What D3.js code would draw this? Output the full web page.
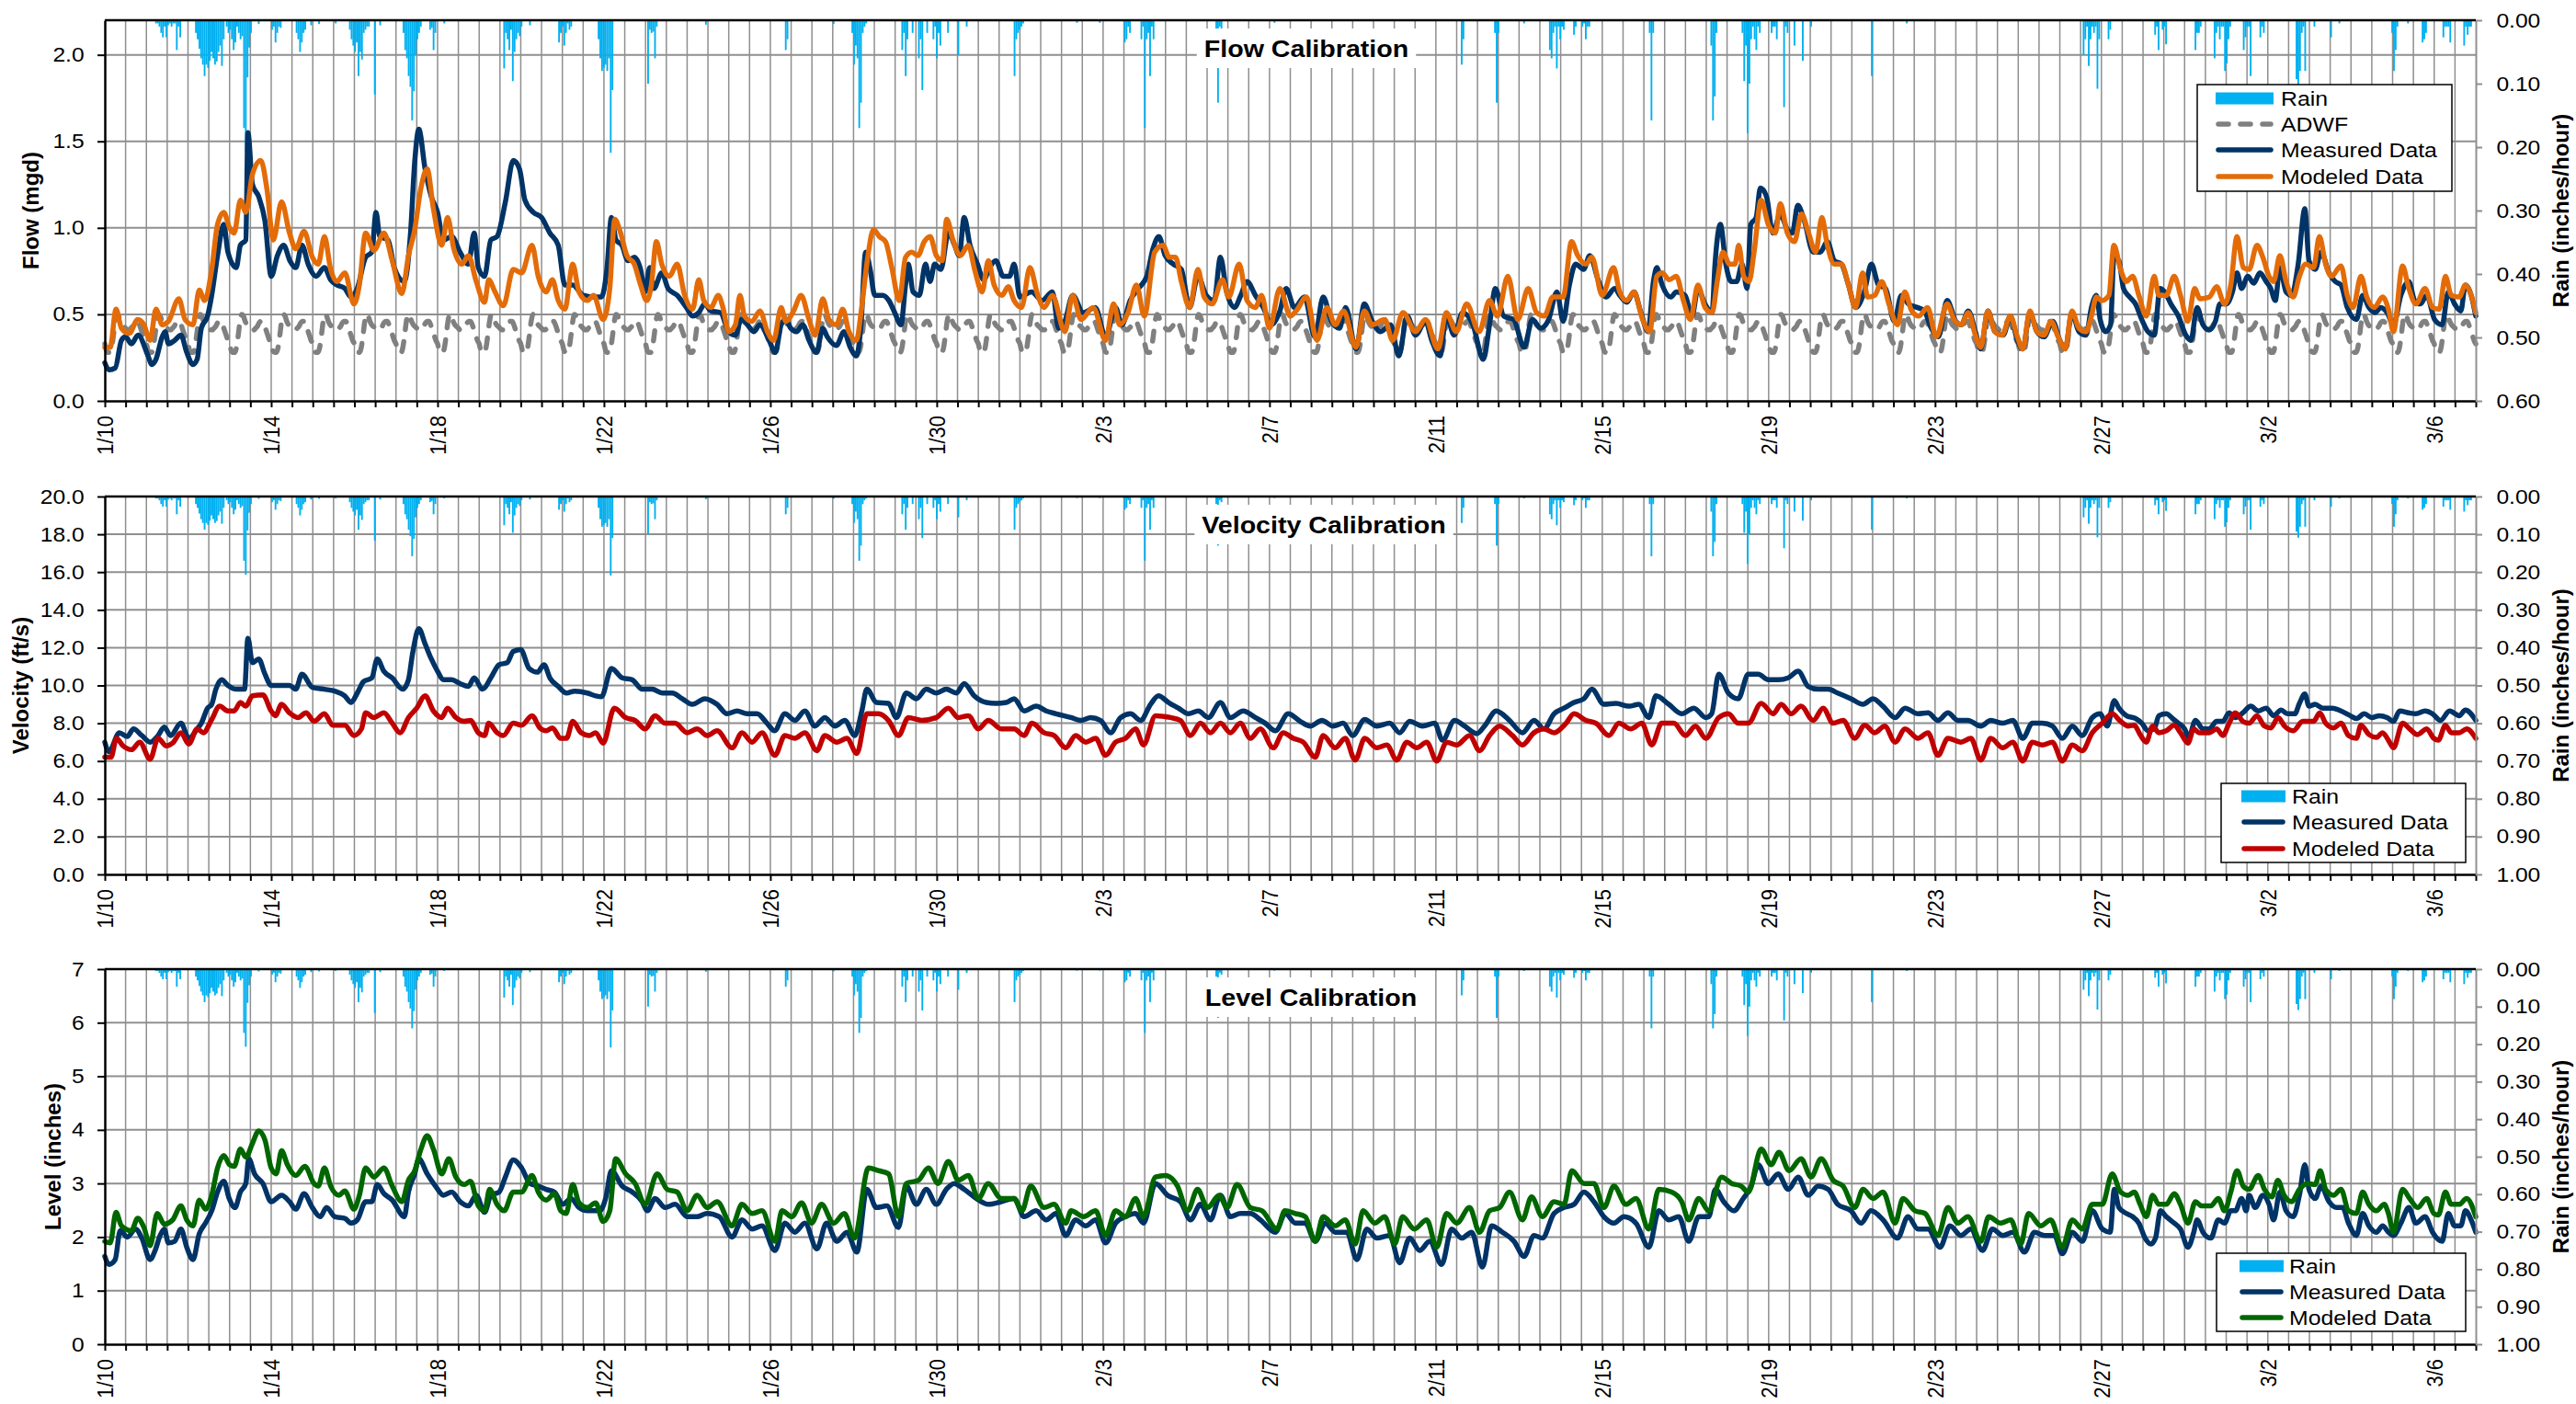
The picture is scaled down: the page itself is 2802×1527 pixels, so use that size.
<!DOCTYPE html>
<html>
<head>
<meta charset="utf-8">
<script src="https://cdn.jsdelivr.net/npm/d3@7"></script>
<style>
  body { margin: 0; background: #fff; }
  text { font-family: "Liberation Sans", Arial, sans-serif; }
</style>
</head>
<body>
<svg id="chart"></svg>
<script>
const W = 2802, H = 1527;

// x values are days after 1/10 00:00 (leap year, axis runs to 3/7)
const dateLabels = ["1/10","1/14","1/18","1/22","1/26","1/30","2/3","2/7","2/11","2/15","2/19","2/23","2/27","3/2","3/6"];

// ADWF diurnal curve, one value per hour (mgd)
const adwfProfile = [0.33,0.29,0.28,0.28,0.31,0.38,0.46,0.50,0.49,0.46,0.44,0.43,0.42,0.41,0.41,0.42,0.43,0.45,0.46,0.46,0.44,0.41,0.38,0.35];

const flowMeasured = [[0,0.22],[0.1,0.18],[0.25,0.19],[0.4,0.35],[0.5,0.37],[0.64,0.33],[0.8,0.38],[1.04,0.26],[1.13,0.21],[1.23,0.24],[1.38,0.37],[1.45,0.40],[1.53,0.33],[1.68,0.35],[1.83,0.38],[1.97,0.28],[2.12,0.21],[2.22,0.24],[2.32,0.42],[2.47,0.49],[2.57,0.61],[2.71,0.84],[2.86,1.02],[2.96,0.86],[3.16,0.77],[3.26,0.9],[3.39,0.93],[3.44,1.55],[3.55,1.25],[3.7,1.18],[3.85,1.04],[4.0,0.72],[4.15,0.84],[4.3,0.9],[4.45,0.81],[4.59,0.77],[4.74,0.9],[4.89,0.79],[5.08,0.72],[5.28,0.77],[5.43,0.70],[5.58,0.67],[5.77,0.65],[5.92,0.60],[6.07,0.65],[6.27,0.83],[6.42,0.86],[6.52,1.09],[6.61,0.95],[6.81,0.93],[6.96,0.77],[7.2,0.69],[7.35,0.97],[7.45,1.38],[7.55,1.57],[7.7,1.34],[7.85,1.18],[8.0,1.09],[8.14,0.93],[8.34,0.95],[8.54,0.86],[8.74,0.79],[8.88,0.97],[8.98,0.77],[9.13,0.72],[9.28,0.93],[9.43,0.95],[9.63,1.15],[9.82,1.39],[9.97,1.34],[10.1,1.16],[10.3,1.09],[10.5,1.06],[10.7,0.97],[10.9,0.90],[11.06,0.67],[11.25,0.67],[11.5,0.61],[11.75,0.60],[11.94,0.60],
[12.07,0.76],[12.18,1.06],[12.29,0.93],[12.43,0.90],[12.58,0.81],[12.73,0.83],[12.88,0.76],[12.99,0.63],[13.1,0.77],[13.2,0.65],[13.39,0.74],[13.54,0.65],[13.76,0.61],[13.98,0.54],[14.13,0.49],[14.28,0.51],[14.42,0.56],[14.57,0.52],[14.8,0.51],[15.0,0.40],[15.16,0.38],[15.3,0.47],[15.45,0.44],[15.6,0.40],[15.75,0.44],[15.97,0.35],[16.12,0.28],[16.26,0.44],[16.37,0.47],[16.49,0.42],[16.63,0.40],[16.78,0.44],[16.93,0.35],[17.11,0.28],[17.26,0.42],[17.37,0.37],[17.59,0.32],[17.77,0.40],[17.92,0.31],[18.07,0.26],[18.18,0.44],[18.29,0.86],[18.4,0.76],[18.51,0.61],[18.7,0.61],[18.85,0.58],[18.99,0.51],[19.14,0.44],[19.25,0.67],[19.32,0.79],[19.43,0.63],[19.58,0.61],[19.73,0.79],[19.84,0.69],[19.95,0.79],[20.1,0.76],[20.28,0.97],[20.43,0.90],[20.54,0.84],[20.66,1.06],[20.8,0.90],[20.98,0.79],[21.13,0.70],[21.27,0.77],[21.42,0.81],[21.6,0.72],[21.75,0.72],[21.86,0.79],[22.0,0.60],
[22.28,0.63],[22.53,0.58],[22.78,0.63],[22.93,0.42],[23.08,0.46],[23.27,0.61],[23.52,0.51],[23.81,0.54],[24.06,0.37],[24.3,0.54],[24.45,0.44],[24.65,0.58],[24.85,0.65],[25.05,0.72],[25.2,0.88],[25.34,0.95],[25.49,0.84],[25.69,0.79],[25.88,0.76],[26.08,0.54],[26.28,0.72],[26.48,0.61],[26.67,0.58],[26.82,0.83],[26.97,0.63],[27.16,0.54],[27.31,0.61],[27.46,0.69],[27.66,0.61],[27.85,0.54],[28.05,0.44],[28.25,0.52],[28.4,0.65],[28.6,0.54],[28.84,0.60],[29.09,0.37],[29.29,0.60],[29.49,0.46],[29.68,0.42],[29.83,0.54],[30.08,0.30],[30.28,0.56],[30.47,0.46],[30.67,0.40],[30.91,0.44],[31.11,0.26],[31.31,0.49],[31.51,0.38],[31.75,0.46],[31.9,0.35],[32.1,0.26],[32.25,0.49],[32.44,0.38],[32.64,0.51],[32.89,0.44],[33.14,0.24],[33.29,0.44],[33.43,0.65],[33.63,0.49],[33.87,0.47],[34.12,0.31],[34.32,0.47],[34.52,0.42],[34.71,0.47],[34.91,0.63],[35.06,0.46],[35.21,0.67],[35.36,0.79],[35.55,0.76],[35.7,0.84],[35.9,0.70],[36.09,0.60],
[36.3,0.65],[36.42,0.61],[36.59,0.57],[36.76,0.63],[36.93,0.51],[37.1,0.40],[37.23,0.69],[37.31,0.77],[37.44,0.67],[37.65,0.60],[37.78,0.63],[37.99,0.61],[38.16,0.49],[38.3,0.65],[38.47,0.56],[38.64,0.51],[38.71,0.79],[38.84,1.02],[38.97,0.79],[39.1,0.69],[39.23,0.69],[39.36,0.79],[39.48,0.65],[39.57,1.02],[39.7,1.06],[39.8,1.23],[39.95,1.18],[40.1,0.97],[40.28,1.08],[40.45,0.99],[40.57,0.97],[40.7,1.13],[40.86,1.04],[41.07,0.86],[41.24,0.86],[41.41,0.92],[41.58,0.81],[41.75,0.79],[41.92,0.67],[42.09,0.54],[42.3,0.63],[42.47,0.79],[42.64,0.67],[42.81,0.65],[43.02,0.46],[43.19,0.61],[43.36,0.56],[43.57,0.54],[43.74,0.52],[43.91,0.42],[44.08,0.37],[44.29,0.58],[44.5,0.46],[44.63,0.44],[44.8,0.52],[44.97,0.40],[45.1,0.30],[45.27,0.52],[45.44,0.40],[45.64,0.38],[45.81,0.49],[45.98,0.35],[46.11,0.30],[46.28,0.51],[46.45,0.40],[46.62,0.37],[46.83,0.46],[47.0,0.35],[47.13,0.30],[47.29,0.51],[47.46,0.40],[47.63,0.38],[47.76,0.54],[47.88,0.61],[47.97,0.47],[48.1,0.40],[48.22,0.44],[48.3,0.83],
[48.42,0.81],[48.53,0.65],[48.68,0.60],[48.82,0.56],[48.97,0.47],[49.12,0.40],[49.27,0.38],[49.41,0.65],[49.52,0.63],[49.67,0.56],[49.85,0.49],[50.03,0.38],[50.15,0.35],[50.3,0.54],[50.44,0.44],[50.59,0.41],[50.74,0.46],[50.85,0.56],[51.0,0.56],[51.15,0.63],[51.26,0.74],[51.37,0.65],[51.52,0.72],[51.66,0.68],[51.81,0.74],[51.96,0.69],[52.07,0.65],[52.18,0.58],[52.29,0.77],[52.44,0.63],[52.57,0.61],[52.73,0.79],[52.89,1.11],[52.99,0.81],[53.14,0.76],[53.28,0.86],[53.47,0.74],[53.62,0.69],[53.76,0.67],[53.91,0.54],[54.13,0.47],[54.28,0.61],[54.43,0.54],[54.58,0.51],[54.72,0.54],[54.87,0.51],[55.02,0.44],[55.2,0.61],[55.39,0.69],[55.53,0.58],[55.67,0.56],[55.82,0.61],[56.01,0.47],[56.19,0.44],[56.34,0.63],[56.49,0.56],[56.64,0.52],[56.75,0.67],[56.89,0.61],[57.0,0.49]];

const flowModeled = [[0,0.31],[0.13,0.31],[0.27,0.53],[0.4,0.42],[0.59,0.39],[0.79,0.47],[0.94,0.44],[1.09,0.35],[1.23,0.53],[1.38,0.44],[1.53,0.46],[1.78,0.59],[1.93,0.47],[2.12,0.44],[2.27,0.64],[2.4,0.58],[2.57,0.76],[2.71,1.02],[2.86,1.09],[3.0,1.0],[3.11,0.97],[3.26,1.16],[3.39,1.09],[3.55,1.31],[3.75,1.39],[3.9,1.22],[4.05,0.93],[4.25,1.15],[4.44,0.97],[4.59,0.88],[4.79,0.98],[4.99,0.83],[5.13,0.79],[5.28,0.95],[5.43,0.76],[5.58,0.69],[5.77,0.74],[5.99,0.56],[6.12,0.67],[6.27,0.97],[6.47,0.87],[6.71,0.97],[6.91,0.81],[7.14,0.62],[7.3,0.84],[7.45,0.99],[7.6,1.23],[7.75,1.34],[7.9,1.11],[8.1,0.90],[8.24,1.06],[8.39,0.88],[8.59,0.79],[8.74,0.84],[8.93,0.69],[9.13,0.57],[9.23,0.70],[9.38,0.63],[9.58,0.55],[9.82,0.76],[10.02,0.74],[10.27,0.90],[10.42,0.72],[10.61,0.63],[10.76,0.70],[10.9,0.58],[11.06,0.53],[11.25,0.79],[11.4,0.63],[11.6,0.58],[11.75,0.61],[11.98,0.47],
[12.14,0.65],[12.26,1.05],[12.4,0.97],[12.55,0.84],[12.73,0.79],[12.88,0.67],[13.03,0.58],[13.14,0.67],[13.26,0.92],[13.39,0.79],[13.57,0.72],[13.76,0.79],[13.94,0.61],[14.13,0.53],[14.28,0.70],[14.4,0.58],[14.57,0.54],[14.75,0.61],[14.86,0.54],[15.0,0.40],[15.16,0.44],[15.27,0.61],[15.38,0.49],[15.56,0.46],[15.75,0.52],[15.93,0.40],[16.08,0.35],[16.26,0.54],[16.37,0.46],[16.56,0.52],[16.74,0.61],[16.93,0.47],[17.08,0.38],[17.26,0.59],[17.41,0.47],[17.59,0.44],[17.74,0.53],[17.89,0.40],[18.07,0.35],[18.18,0.51],[18.33,0.81],[18.48,0.99],[18.62,0.95],[18.77,0.92],[18.92,0.77],[19.1,0.58],[19.25,0.83],[19.4,0.86],[19.55,0.84],[19.7,0.92],[19.84,0.95],[19.99,0.84],[20.13,0.81],[20.24,1.05],[20.39,0.93],[20.57,0.84],[20.76,0.90],[20.91,0.76],[21.09,0.63],[21.24,0.81],[21.38,0.67],[21.57,0.61],[21.72,0.66],[21.86,0.58],
[22.04,0.54],[22.24,0.77],[22.43,0.61],[22.58,0.54],[22.78,0.61],[23.08,0.40],[23.27,0.61],[23.47,0.47],[23.76,0.54],[24.06,0.35],[24.25,0.56],[24.4,0.44],[24.6,0.51],[24.8,0.67],[24.99,0.49],[25.24,0.86],[25.44,0.90],[25.59,0.83],[25.74,0.83],[25.88,0.69],[26.08,0.54],[26.28,0.76],[26.43,0.60],[26.62,0.56],[26.87,0.70],[27.02,0.60],[27.27,0.79],[27.46,0.58],[27.66,0.54],[27.81,0.61],[28.0,0.42],[28.25,0.65],[28.5,0.49],[28.64,0.52],[28.89,0.60],[29.14,0.35],[29.38,0.54],[29.58,0.44],[29.78,0.52],[30.08,0.31],[30.28,0.52],[30.47,0.44],[30.77,0.47],[30.96,0.35],[31.21,0.51],[31.51,0.40],[31.75,0.47],[32.05,0.30],[32.25,0.51],[32.49,0.40],[32.74,0.56],[33.04,0.40],[33.29,0.58],[33.48,0.49],[33.73,0.72],[33.97,0.47],[34.22,0.65],[34.42,0.51],[34.61,0.49],[34.81,0.60],[35.06,0.60],[35.26,0.92],[35.41,0.84],[35.6,0.79],[35.75,0.83],[36.0,0.61],
[36.27,0.77],[36.42,0.63],[36.59,0.58],[36.76,0.63],[36.97,0.47],[37.14,0.40],[37.31,0.72],[37.44,0.74],[37.61,0.70],[37.78,0.72],[37.95,0.58],[38.12,0.47],[38.3,0.67],[38.47,0.54],[38.64,0.51],[38.77,0.70],[38.9,0.86],[39.06,0.79],[39.19,0.79],[39.28,0.90],[39.4,0.72],[39.53,0.69],[39.65,0.86],[39.82,1.16],[39.99,1.02],[40.16,0.97],[40.28,1.14],[40.45,0.97],[40.62,0.92],[40.79,1.08],[40.96,0.97],[41.13,0.86],[41.28,1.06],[41.41,0.90],[41.58,0.79],[41.75,0.79],[41.92,0.67],[42.09,0.54],[42.26,0.74],[42.38,0.60],[42.55,0.61],[42.72,0.69],[42.89,0.56],[43.1,0.44],[43.27,0.63],[43.44,0.52],[43.61,0.49],[43.82,0.54],[44.03,0.37],[44.29,0.56],[44.46,0.47],[44.63,0.44],[44.8,0.51],[44.97,0.38],[45.1,0.31],[45.27,0.52],[45.44,0.40],[45.61,0.38],[45.81,0.49],[45.98,0.37],[46.11,0.30],[46.28,0.52],[46.45,0.40],[46.62,0.38],[46.79,0.46],[46.96,0.37],[47.13,0.30],[47.29,0.52],[47.46,0.42],[47.63,0.40],[47.76,0.49],[47.88,0.60],[48.01,0.58],[48.18,0.61],[48.3,0.90],
[48.46,0.76],[48.6,0.69],[48.75,0.72],[48.9,0.61],[49.08,0.49],[49.27,0.72],[49.38,0.61],[49.56,0.61],[49.75,0.72],[49.9,0.61],[50.08,0.46],[50.24,0.65],[50.37,0.59],[50.59,0.60],[50.77,0.66],[50.96,0.56],[51.11,0.67],[51.26,0.95],[51.41,0.77],[51.55,0.76],[51.74,0.90],[51.88,0.83],[52.03,0.72],[52.14,0.69],[52.29,0.84],[52.44,0.69],[52.61,0.60],[52.76,0.72],[52.91,0.79],[53.1,0.77],[53.24,0.95],[53.39,0.79],[53.53,0.72],[53.76,0.78],[53.91,0.61],[54.05,0.54],[54.24,0.72],[54.38,0.60],[54.56,0.54],[54.76,0.60],[54.9,0.53],[55.02,0.40],[55.24,0.78],[55.39,0.65],[55.56,0.56],[55.78,0.65],[55.96,0.54],[56.12,0.53],[56.27,0.72],[56.41,0.61],[56.6,0.60],[56.75,0.67],[56.89,0.61],[57.0,0.51]];

const velMeasured = [[0,7.0],[0.1,6.5],[0.35,7.5],[0.54,7.3],[0.69,7.7],[0.89,7.35],[1.09,7.0],[1.28,7.35],[1.43,7.8],[1.58,7.35],[1.83,8.0],[2.02,7.2],[2.22,7.7],[2.32,8.0],[2.47,8.8],[2.57,9.0],[2.67,9.8],[2.81,10.3],[2.96,10.0],[3.16,9.8],[3.36,9.8],[3.44,12.5],[3.55,11.2],[3.7,11.4],[3.85,10.6],[4.0,10.0],[4.25,10.0],[4.44,10.0],[4.59,9.8],[4.74,10.6],[4.99,9.9],[5.28,9.8],[5.53,9.7],[5.77,9.45],[5.92,9.1],[6.07,9.6],[6.22,10.2],[6.42,10.4],[6.55,11.4],[6.71,10.75],[6.91,10.4],[7.16,9.8],[7.3,10.3],[7.4,11.7],[7.55,13.0],[7.7,12.2],[7.85,11.4],[8.0,10.75],[8.14,10.3],[8.34,10.3],[8.54,10.1],[8.74,9.95],[8.88,10.4],[9.08,9.8],[9.28,10.4],[9.48,11.1],[9.67,11.2],[9.82,11.8],[10.0,11.9],[10.2,10.9],[10.4,10.7],[10.56,11.1],[10.7,10.4],[10.9,9.95],[11.1,9.6],[11.3,9.7],[11.6,9.6],[11.8,9.45],[11.94,9.4],
[12.18,10.9],[12.44,10.4],[12.68,10.3],[12.92,9.8],[13.16,9.8],[13.4,9.6],[13.64,9.6],[13.88,9.3],[14.12,9.0],[14.43,9.3],[14.72,9.0],[14.96,8.5],[15.2,8.65],[15.44,8.5],[15.68,8.5],[15.92,8.0],[16.1,7.6],[16.35,8.5],[16.59,8.15],[16.83,8.65],[17.07,7.85],[17.31,8.3],[17.55,7.85],[17.79,8.15],[18.03,7.35],[18.2,8.65],[18.32,9.8],[18.55,9.1],[18.84,9.05],[19.03,8.3],[19.27,9.6],[19.51,9.3],[19.75,9.8],[19.99,9.6],[20.23,9.8],[20.47,9.6],[20.66,10.1],[20.9,9.45],[21.19,9.1],[21.43,9.05],[21.67,9.1],[21.86,9.3],[22.1,8.65],[22.39,8.9],[22.63,8.65],[22.87,8.5],[23.23,8.3],[23.47,8.15],[23.7,8.3],[23.94,8.15],[24.18,7.5],[24.42,8.3],[24.66,8.5],[24.9,8.15],[25.14,9.0],[25.33,9.45],[25.57,9.1],[25.81,8.8],[26.05,8.5],[26.29,8.65],[26.53,8.3],[26.82,9.1],[27.06,8.3],[27.37,8.65],[27.66,8.3],[27.9,8.0],[28.14,7.6],[28.45,8.5],[28.74,8.1],[28.98,7.85],[29.26,8.15],[29.53,7.85],[29.77,8.0],[30.0,7.35],[30.29,8.2],[30.58,7.85],[30.89,8.0],[31.13,7.5],[31.37,8.1],[31.68,7.85],[31.97,8.0],[32.16,7.1],[32.45,8.15],[32.69,7.85],[32.98,7.45],[33.17,7.85],[33.45,8.65],[33.77,8.15],[34.08,7.5],[34.36,8.15],[34.6,7.7],[34.84,8.5],[35.08,8.8],[35.32,9.1],[35.56,9.3],[35.75,9.8],[36.04,9.0],[36.33,9.05],[36.64,8.9],[36.88,9.0],[37.12,8.3],[37.29,9.45],[37.6,9.0],[37.91,8.5],[38.2,8.8],[38.49,8.3],[38.63,8.5],[38.8,10.6],[39.03,9.6],[39.27,9.3],[39.51,10.6],[39.75,10.6],[39.99,10.3],[40.23,10.3],[40.47,10.4],[40.71,10.75],[40.95,9.95],[41.19,9.8],[41.43,9.8],[41.66,9.6],[41.98,9.3],[42.27,9.0],[42.51,9.3],[42.75,8.9],[43.04,8.3],[43.28,8.8],[43.59,8.5],[43.83,8.55],[44.07,8.15],[44.31,8.55],[44.55,8.15],[44.79,8.15],[45.1,7.85],[45.34,8.15],[45.63,8.0],[45.87,8.15],[46.11,7.2],[46.34,8.0],[46.58,8.0],[46.82,7.85],[47.06,7.2],[47.3,7.85],[47.54,7.35],[47.78,8.3],[47.97,8.5],[48.14,7.85],
[48.31,9.2],[48.42,8.8],[48.6,8.4],[48.82,8.25],[48.97,8.0],[49.12,7.6],[49.27,7.7],[49.38,8.4],[49.56,8.5],[49.71,8.25],[49.85,8.0],[50.0,7.7],[50.1,7.25],[50.26,8.15],[50.44,7.7],[50.59,7.7],[50.77,8.1],[50.92,8.1],[51.07,8.55],[51.22,8.3],[51.4,8.55],[51.59,8.9],[51.77,8.65],[51.96,8.8],[52.14,8.4],[52.32,8.7],[52.47,8.5],[52.65,8.5],[52.76,9.05],[52.89,9.55],[52.99,8.9],[53.14,9.0],[53.32,8.8],[53.54,8.8],[53.76,8.65],[53.98,8.4],[54.13,8.25],[54.32,8.5],[54.5,8.3],[54.68,8.4],[54.87,8.3],[55.02,8.1],[55.17,8.65],[55.39,8.55],[55.56,8.5],[55.78,8.65],[55.96,8.5],[56.15,8.15],[56.37,8.65],[56.6,8.4],[56.75,8.7],[57.0,8.15]];

const velModeled = [[0,6.2],[0.15,6.2],[0.28,7.2],[0.44,6.8],[0.64,6.6],[0.84,7.0],[1.09,6.1],[1.28,7.2],[1.48,6.8],[1.63,6.95],[1.83,7.5],[2.02,6.9],[2.22,7.7],[2.37,7.5],[2.57,8.2],[2.76,8.9],[2.96,8.65],[3.11,8.65],[3.26,9.1],[3.39,8.9],[3.55,9.45],[3.8,9.5],[4.0,8.65],[4.1,8.4],[4.25,9.0],[4.44,8.55],[4.64,8.3],[4.84,8.55],[5.03,8.1],[5.28,8.5],[5.48,7.9],[5.77,7.9],[5.99,7.35],[6.17,7.7],[6.27,8.55],[6.47,8.3],[6.71,8.55],[6.91,8.0],[7.1,7.5],[7.3,8.3],[7.5,8.8],[7.7,9.45],[7.9,8.65],[8.1,8.3],[8.24,8.8],[8.44,8.3],[8.64,8.1],[8.79,8.15],[8.98,7.5],[9.13,7.35],[9.23,8.0],[9.43,7.5],[9.58,7.35],[9.82,8.0],[10.02,7.9],[10.27,8.4],[10.46,7.75],[10.61,7.6],[10.76,7.75],[10.96,7.2],[11.1,7.2],[11.25,8.1],[11.45,7.5],[11.65,7.35],[11.8,7.5],[11.98,6.95],
[12.25,8.8],[12.52,8.3],[12.75,8.15],[12.99,7.7],[13.23,8.4],[13.47,8.0],[13.71,8.0],[14.0,7.5],[14.24,7.7],[14.48,7.35],[14.72,7.6],[15.08,6.7],[15.32,7.5],[15.56,7.0],[15.8,7.5],[16.11,6.3],[16.35,7.35],[16.59,7.2],[16.83,7.5],[17.12,6.55],[17.31,7.35],[17.6,7.0],[17.84,7.2],[18.08,6.4],[18.32,8.5],[18.6,8.5],[18.84,8.15],[19.08,7.35],[19.32,8.3],[19.64,8.15],[19.99,8.3],[20.28,8.8],[20.52,8.3],[20.76,8.4],[21.0,7.7],[21.24,8.15],[21.55,7.7],[21.86,7.7],[22.1,7.35],[22.29,8.0],[22.58,7.5],[22.82,7.35],[23.1,6.7],[23.34,7.35],[23.58,7.0],[23.82,7.2],[24.06,6.3],[24.3,7.0],[24.54,7.2],[24.78,7.7],[24.97,6.85],[25.26,8.4],[25.62,8.3],[25.86,8.15],[26.1,7.35],[26.34,8.0],[26.58,7.5],[26.82,8.0],[27.06,7.5],[27.3,8.0],[27.54,7.2],[27.78,7.7],[28.09,6.7],[28.33,7.5],[28.57,7.2],[28.81,7.0],[29.1,6.2],[29.29,7.35],[29.58,6.7],[29.82,7.2],[30.06,6.05],[30.29,7.2],[30.58,6.7],[30.82,6.85],[31.06,6.05],[31.3,7.0],[31.54,6.7],[31.78,7.0],[32.02,6.0],[32.26,7.0],[32.5,6.85],[32.81,7.35],[33.05,6.55],[33.29,7.35],[33.53,7.85],[33.84,7.35],[34.08,6.85],[34.36,7.5],[34.6,7.7],[34.84,7.5],[35.13,8.0],[35.32,8.5],[35.61,8.15],[35.85,8.0],[36.16,7.35],[36.4,8.0],[36.69,7.7],[36.95,8.0],[37.19,6.85],[37.43,8.0],[37.72,8.0],[38.0,7.35],[38.24,7.85],[38.49,7.2],[38.8,8.3],[39.03,8.5],[39.27,8.0],[39.51,8.0],[39.82,9.05],[40.11,8.5],[40.3,9.0],[40.54,8.5],[40.78,8.9],[41.07,8.15],[41.31,8.8],[41.55,8.0],[41.79,8.15],[42.07,7.2],[42.31,7.9],[42.55,7.5],[42.79,7.85],[43.04,7.0],[43.28,7.7],[43.59,7.2],[43.83,7.5],[44.07,6.3],[44.31,7.2],[44.62,7.0],[44.86,7.2],[45.1,6.05],[45.34,7.2],[45.63,6.7],[45.87,7.0],[46.11,6.0],[46.34,7.0],[46.58,6.85],[46.82,7.0],[47.06,6.0],[47.3,6.85],[47.54,6.55],[47.78,7.5],[48.02,8.0],[48.26,8.5],
[48.46,8.1],[48.64,7.85],[48.79,7.9],[48.93,7.4],[49.08,7.0],[49.23,7.85],[49.38,7.5],[49.56,7.6],[49.75,7.9],[49.9,7.5],[50.08,6.95],[50.22,7.7],[50.35,7.5],[50.59,7.5],[50.77,7.7],[50.92,7.35],[51.07,8.0],[51.22,8.55],[51.4,8.1],[51.55,8.0],[51.74,8.4],[51.92,7.85],[52.07,7.75],[52.25,8.3],[52.4,7.85],[52.61,7.6],[52.84,8.1],[53.1,8.1],[53.25,8.55],[53.39,8.0],[53.58,7.75],[53.76,8.0],[53.94,7.35],[54.13,7.2],[54.24,7.9],[54.43,7.4],[54.61,7.25],[54.76,7.5],[54.9,7.1],[55.02,6.7],[55.24,8.0],[55.41,7.7],[55.6,7.4],[55.82,7.7],[55.99,7.2],[56.1,7.1],[56.27,7.9],[56.41,7.5],[56.6,7.5],[56.78,7.7],[57.0,7.2]];

const levelMeasured = [[0,1.64],[0.1,1.49],[0.25,1.58],[0.37,2.12],[0.54,2.0],[0.74,2.15],[0.89,1.98],[1.09,1.58],[1.21,1.75],[1.33,2.03],[1.43,2.15],[1.53,1.89],[1.68,1.92],[1.83,2.15],[1.97,1.81],[2.12,1.58],[2.27,2.06],[2.42,2.26],[2.57,2.49],[2.71,2.84],[2.86,3.04],[2.99,2.72],[3.13,2.55],[3.26,2.84],[3.39,3.0],[3.46,3.46],[3.6,3.18],[3.8,3.0],[4.0,2.66],[4.25,2.78],[4.44,2.66],[4.59,2.52],[4.79,2.81],[4.99,2.55],[5.18,2.38],[5.33,2.55],[5.53,2.38],[5.77,2.35],[5.92,2.26],[6.07,2.32],[6.27,2.66],[6.42,2.66],[6.55,2.98],[6.71,2.81],[6.91,2.69],[7.2,2.38],[7.3,2.84],[7.45,3.18],[7.55,3.46],[7.75,3.18],[7.95,2.95],[8.14,2.78],[8.34,2.84],[8.54,2.66],[8.74,2.58],[8.93,2.78],[9.13,2.46],[9.28,2.78],[9.48,2.84],[9.63,3.12],[9.82,3.44],[10.02,3.29],[10.22,3.0],[10.42,2.95],[10.61,2.89],[10.81,2.84],[11.01,2.61],[11.21,2.72],[11.4,2.55],[11.6,2.49],[11.9,2.49],
[12.04,2.72],[12.18,3.24],[12.44,2.95],[12.68,2.84],[12.92,2.66],[13.04,2.49],[13.23,2.72],[13.47,2.55],[13.71,2.61],[14.0,2.38],[14.24,2.38],[14.48,2.44],[14.77,2.38],[15.08,2.0],[15.32,2.32],[15.56,2.15],[15.8,2.21],[16.11,1.75],[16.35,2.26],[16.59,2.09],[16.83,2.26],[17.12,1.78],[17.35,2.26],[17.6,1.92],[17.84,2.09],[18.08,1.72],[18.32,2.89],[18.55,2.55],[18.8,2.58],[19.08,2.18],[19.27,2.95],[19.51,2.61],[19.75,2.89],[19.99,2.61],[20.23,2.89],[20.42,3.0],[20.66,2.89],[20.95,2.72],[21.24,2.61],[21.55,2.66],[21.86,2.72],[22.1,2.38],[22.39,2.49],[22.63,2.32],[22.87,2.44],[23.1,2.03],[23.34,2.32],[23.58,2.21],[23.82,2.32],[24.06,1.89],[24.3,2.26],[24.54,2.38],[24.78,2.44],[24.97,2.26],[25.26,3.0],[25.55,2.78],[25.86,2.66],[26.1,2.32],[26.34,2.61],[26.58,2.32],[26.82,2.78],[27.06,2.38],[27.3,2.44],[27.54,2.44],[27.78,2.32],[28.14,2.09],[28.38,2.44],[28.62,2.26],[28.86,2.26],[29.1,1.92],[29.34,2.26],[29.58,2.09],[29.86,2.09],[30.1,1.58],[30.34,2.15],[30.58,1.98],[30.89,2.03],[31.13,1.52],[31.37,1.98],[31.61,1.75],[31.85,1.92],[32.14,1.49],[32.38,2.15],[32.62,1.98],[32.86,2.09],[33.12,1.44],[33.34,2.21],[33.6,2.09],[33.88,1.92],[34.12,1.64],[34.36,2.03],[34.56,1.98],[34.84,2.44],[35.08,2.55],[35.32,2.61],[35.56,2.84],[35.8,2.66],[36.04,2.38],[36.28,2.26],[36.52,2.38],[36.81,2.26],[37.12,1.81],[37.36,2.49],[37.6,2.32],[37.84,2.38],[38.08,1.92],[38.32,2.38],[38.56,2.38],[38.72,2.89],[38.92,2.66],[39.16,2.49],[39.39,2.72],[39.58,2.95],[39.75,3.35],[39.99,3.0],[40.23,3.18],[40.47,2.89],[40.71,3.12],[40.95,2.78],[41.19,2.95],[41.43,2.89],[41.66,2.61],[41.98,2.49],[42.22,2.26],[42.46,2.49],[42.75,2.32],[43.1,1.98],[43.35,2.38],[43.59,2.15],[43.83,2.15],[44.12,1.81],[44.36,2.21],[44.62,2.03],[44.86,2.15],[45.14,1.75],[45.38,2.15],[45.63,2.03],[45.87,2.09],[46.15,1.72],[46.39,2.09],[46.63,2.03],[46.87,2.03],[47.06,1.69],[47.3,2.09],[47.54,1.92],[47.78,2.49],[48.02,2.15],[48.21,2.09],
[48.31,2.89],[48.42,2.55],[48.6,2.44],[48.75,2.38],[48.9,2.26],[49.05,1.98],[49.19,1.87],[49.3,1.98],[49.42,2.49],[49.56,2.38],[49.75,2.26],[49.9,2.15],[50.08,1.81],[50.22,2.09],[50.3,2.32],[50.44,2.09],[50.63,1.98],[50.81,2.32],[50.96,2.26],[51.11,2.49],[51.22,2.49],[51.37,2.72],[51.48,2.49],[51.55,2.78],[51.7,2.55],[51.88,2.78],[52.03,2.61],[52.14,2.32],[52.29,2.84],[52.44,2.49],[52.61,2.38],[52.76,2.78],[52.89,3.35],[52.99,2.89],[53.14,2.72],[53.28,2.95],[53.47,2.66],[53.65,2.55],[53.8,2.55],[53.94,2.26],[54.13,2.03],[54.28,2.44],[54.43,2.21],[54.61,2.09],[54.76,2.21],[54.9,2.09],[55.02,2.03],[55.2,2.26],[55.39,2.55],[55.56,2.26],[55.78,2.38],[55.96,2.09],[56.19,1.92],[56.34,2.44],[56.49,2.21],[56.64,2.21],[56.75,2.49],[56.89,2.32],[57.0,2.09]];

const levelModeled = [[0,1.92],[0.13,1.89],[0.27,2.46],[0.4,2.21],[0.64,2.12],[0.79,2.35],[0.94,2.18],[1.09,1.84],[1.26,2.44],[1.43,2.24],[1.63,2.32],[1.83,2.58],[1.97,2.32],[2.12,2.21],[2.27,2.69],[2.42,2.52],[2.57,2.78],[2.71,3.29],[2.86,3.52],[3.0,3.35],[3.11,3.32],[3.26,3.64],[3.39,3.49],[3.55,3.75],[3.7,3.98],[3.85,3.81],[4.0,3.29],[4.12,3.18],[4.25,3.61],[4.39,3.35],[4.59,3.15],[4.81,3.32],[5.03,3.0],[5.13,2.95],[5.28,3.29],[5.43,2.95],[5.63,2.78],[5.77,2.86],[5.99,2.52],[6.12,2.78],[6.27,3.29],[6.47,3.12],[6.71,3.29],[6.91,2.95],[7.14,2.66],[7.3,3.06],[7.45,3.24],[7.6,3.64],[7.75,3.89],[7.9,3.64],[8.1,3.18],[8.27,3.46],[8.44,3.12],[8.64,2.98],[8.79,3.04],[8.98,2.58],[9.13,2.49],[9.25,2.89],[9.43,2.61],[9.6,2.49],[9.82,2.84],[10.02,2.84],[10.27,3.15],[10.42,2.84],[10.61,2.69],[10.81,2.81],[10.96,2.49],[11.09,2.44],[11.25,2.98],[11.4,2.64],[11.6,2.55],[11.8,2.64],[11.98,2.29],
[12.14,2.49],[12.28,3.46],[12.52,3.18],[12.75,3.0],[12.99,2.61],[13.28,3.18],[13.52,2.89],[13.76,2.84],[14.0,2.49],[14.24,2.78],[14.48,2.55],[14.72,2.66],[15.08,2.21],[15.32,2.61],[15.56,2.44],[15.8,2.49],[16.11,1.92],[16.28,2.49],[16.52,2.38],[16.75,2.64],[16.99,2.26],[17.23,2.61],[17.52,2.26],[17.78,2.44],[18.02,1.98],[18.36,3.29],[18.6,3.24],[18.84,3.18],[19.08,2.38],[19.27,3.0],[19.56,3.06],[19.8,3.29],[20.03,3.0],[20.28,3.41],[20.52,3.06],[20.76,3.15],[21.0,2.72],[21.24,3.0],[21.55,2.72],[21.86,2.72],[22.05,2.49],[22.26,2.95],[22.58,2.55],[22.82,2.61],[23.1,2.26],[23.23,2.49],[23.53,2.38],[23.82,2.49],[24.06,2.03],[24.3,2.49],[24.54,2.38],[24.78,2.72],[24.97,2.38],[25.26,3.12],[25.5,3.15],[25.79,2.95],[26.03,2.49],[26.27,2.89],[26.51,2.55],[26.79,2.78],[26.98,2.55],[27.22,2.98],[27.54,2.55],[27.82,2.49],[28.18,2.15],[28.37,2.49],[28.62,2.44],[28.86,2.38],[29.1,1.92],[29.29,2.38],[29.58,2.21],[29.82,2.32],[30.06,1.87],[30.25,2.49],[30.53,2.26],[30.77,2.38],[31.01,1.87],[31.2,2.38],[31.48,2.15],[31.78,2.32],[32.02,1.81],[32.26,2.44],[32.5,2.26],[32.81,2.55],[33.05,2.09],[33.29,2.49],[33.53,2.55],[33.77,2.84],[34.08,2.32],[34.3,2.75],[34.56,2.38],[34.84,2.66],[35.08,2.61],[35.27,3.24],[35.56,3.0],[35.8,3.0],[36.04,2.55],[36.28,2.95],[36.57,2.61],[36.81,2.72],[37.12,2.15],[37.36,2.89],[37.67,2.84],[37.91,2.66],[38.08,2.32],[38.32,2.72],[38.56,2.49],[38.87,3.12],[39.11,3.0],[39.34,2.95],[39.51,2.84],[39.82,3.64],[40.06,3.35],[40.25,3.58],[40.49,3.24],[40.78,3.46],[41.02,3.12],[41.26,3.46],[41.55,3.06],[41.79,2.95],[42.07,2.55],[42.27,2.89],[42.51,2.72],[42.75,2.84],[43.04,2.26],[43.23,2.72],[43.52,2.49],[43.76,2.44],[44.07,2.03],[44.31,2.55],[44.55,2.26],[44.79,2.38],[45.1,1.92],[45.29,2.38],[45.58,2.26],[45.82,2.32],[46.06,1.87],[46.25,2.44],[46.54,2.21],[46.78,2.32],[47.06,1.81],[47.3,2.32],[47.54,2.15],[47.78,2.61],[48.02,2.61],[48.26,3.18],
[48.46,2.84],[48.64,2.78],[48.79,2.84],[48.93,2.61],[49.08,2.38],[49.23,2.78],[49.38,2.61],[49.56,2.61],[49.75,2.81],[49.9,2.61],[50.08,2.26],[50.26,2.66],[50.41,2.58],[50.63,2.58],[50.81,2.72],[50.96,2.49],[51.11,2.84],[51.26,3.24],[51.41,2.95],[51.55,2.89],[51.77,3.15],[51.92,2.89],[52.1,2.75],[52.24,3.06],[52.39,2.78],[52.57,2.66],[52.76,2.89],[52.94,3.0],[53.14,2.98],[53.26,3.24],[53.39,2.89],[53.58,2.78],[53.76,2.89],[53.94,2.49],[54.13,2.44],[54.28,2.84],[54.43,2.61],[54.61,2.49],[54.8,2.61],[54.9,2.44],[55.02,2.09],[55.24,2.89],[55.41,2.72],[55.6,2.55],[55.82,2.72],[55.99,2.44],[56.1,2.41],[56.27,2.84],[56.41,2.61],[56.6,2.61],[56.78,2.72],[57.0,2.38]];

// rain: [start day, hourly intensities in/hr]
const rainEvents = [[1.21,[0.005,0.005,0.01,0.02,0.027,0.01,0.027,0.008,0.005,0.01,0.005,0.005,0.047,0.01,0.027]],
[2.17,[0.02,0.03,0.045,0.06,0.07,0.088,0.07,0.075,0.064,0.05,0.06,0.07,0.065,0.05,0.04,0.072,0.03]],
[2.91,[0.01,0.02,0.015,0.03,0.047,0.035,0.01,0.02,0.03,0.025,0.17,0.207,0.09,0.043,0.02]],
[3.68,[0.006]],[4.0,[0.015,0.01,0.035,0.02,0.01,0.012]],[4.59,[0.02,0.03,0.05,0.035,0.02,0.015]],
[4.94,[0.008]],[5.13,[0.006]],[5.53,[0.005]],
[5.87,[0.015,0.03,0.04,0.05,0.035,0.088,0.05,0.062,0.02,0.015,0.01,0.01]],
[6.47,[0.117]],[6.6,[0.008]],
[7.16,[0.02,0.047,0.06,0.088,0.105,0.158,0.112,0.055,0.03,0.02,0.01]],
[7.8,[0.015,0.012,0.047,0.02]],[8.14,[0.005]],
[9.58,[0.076,0.02,0.03,0.047,0.015,0.096,0.05,0.03,0.02,0.025,0.01]],
[10.2,[0.008]],[10.9,[0.035,0.02,0.01,0.04,0.02,0.005,0.015,0.01]],
[11.85,[0.03,0.06,0.08,0.075,0.07,0.08,0.06,0.209,0.11]],
[13.04,[0.1,0.015,0.02,0.018,0.06,0.01]],[14.43,[0.007]],[16.35,[0.047,0.03]],[17.5,[0.006]],
[17.95,[0.02,0.07,0.04,0.06,0.17,0.13,0.02,0.01,0.005]],
[19.15,[0.047,0.02,0.088,0.03]],[19.4,[0.02]],[19.55,[0.06,0.03,0.11]],[19.75,[0.02]],[19.9,[0.03,0.01,0.06,0.02,0.04]],[20.25,[0.02]],[20.5,[0.055]],[20.7,[0.01]],
[21.85,[0.088,0.03,0.02,0.015,0.01,0.005]],[23.35,[0.004]],[23.9,[0.004]],
[24.5,[0.035,0.03,0.01,0.02]],[24.9,[0.03,0.01,0.17,0.03,0.02,0.088,0.01,0.03]],
[26.7,[0.02,0.13,0.01,0.015]],[28.1,[0.004]],[32.6,[0.07,0.03]],[33.4,[0.02,0.13,0.02]],[34.1,[0.005]],
[34.72,[0.047,0.06,0.02,0.01,0.076,0.01,0.03,0.01,0.015]],[35.3,[0.023,0.01]],[35.5,[0.01,0.005,0.03,0.01,0.01]],
[37.12,[0.02,0.158,0.02]],[38.6,[0.04,0.158,0.12,0.02]],
[39.35,[0.02,0.096,0.04,0.178,0.1,0.03,0.01,0.03,0.047,0.01,0.02]],[40.05,[0.02,0.01,0.01,0.03]],[40.35,[0.137,0.01,0.02]],[40.6,[0.04]],[40.8,[0.064]],[41.0,[0.01]],
[42.46,[0.088]],[43.3,[0.005]],
[47.55,[0.055,0.03,0.01,0.072,0.03,0.01,0.02,0.01,0.108,0.03]],[48.15,[0.03,0.015]],
[49.27,[0.023,0.01,0.047]],[49.45,[0.015,0.01,0.038]],[50.24,[0.047,0.02,0.02,0.01]],
[50.7,[0.06,0.02,0.01,0.03,0.01,0.01,0.08,0.068,0.03,0.01]],
[51.4,[0.047,0.027,0.01,0.01,0.088]],[51.8,[0.027,0.01,0.02]],
[52.67,[0.093,0.109,0.08,0.02,0.01,0.08]],[53.1,[0.01]],[53.5,[0.027]],[53.7,[0.005]],
[54.97,[0.02,0.08,0.047,0.01]],[55.35,[0.005]],[55.7,[0.035,0.03,0.02]],
[56.2,[0.027,0.01,0.01,0.01,0.035]],[56.7,[0.04,0.01,0.023,0.01,0.01]]];

const flowTicks = [0, 0.5, 1.0, 1.5, 2.0];
const velTicks = [0, 2, 4, 6, 8, 10, 12, 14, 16, 18, 20];
const levelTicks = [0, 1, 2, 3, 4, 5, 6, 7];
const rainTicksFlow = [0, 0.1, 0.2, 0.3, 0.4, 0.5, 0.6];
const rainTicks = [0, 0.1, 0.2, 0.3, 0.4, 0.5, 0.6, 0.7, 0.8, 0.9, 1.0];

const svg = d3.select("#chart").attr("width", W).attr("height", H);
svg.append("rect").attr("width", W).attr("height", H).attr("fill", "#fff");

const x = d3.scaleLinear().domain([0, 57]).range([114, 2693]);
const halfDays = d3.range(0, 57.001, 0.5);
const gridGray = "#8f8f8f";
const rainBlue = "#00B0F0";
const lineW = 5.5;

const rain = rainEvents.flatMap(([s, vals]) => vals.map((v, i) => [s + i / 24, v]));
const adwf = d3.range(57 * 24 + 1).map(h => [h / 24, adwfProfile[h % 24]]);

const panels = [
  { top: 22, bottom: 436, yMax: 2.2, yTicks: flowTicks, yFmt: d3.format(".1f"),
    rainMax: 0.6, rTicks: rainTicksFlow, yLabel: "Flow (mgd)", yLabelX: 42,
    title: "Flow Calibration", titleX: 1421,
    series: [
      { name: "ADWF", data: adwf, color: "#808080", dash: "11,13" },
      { name: "Measured Data", data: flowMeasured, color: "#003366" },
      { name: "Modeled Data", data: flowModeled, color: "#E36C09" }],
    legend: { x: 2390, y: 92, w: 277, h: 116, rows: [107, 135, 163, 192], swX: 2410, swW: 63, txtX: 2481 } },
  { top: 540, bottom: 951, yMax: 20, yTicks: velTicks, yFmt: d3.format(".1f"),
    rainMax: 1.0, rTicks: rainTicks, yLabel: "Velocity (ft/s)", yLabelX: 31,
    title: "Velocity Calibration", titleX: 1440,
    series: [
      { name: "Measured Data", data: velMeasured, color: "#003366" },
      { name: "Modeled Data", data: velModeled, color: "#C00000" }],
    legend: { x: 2416, y: 852, w: 266, h: 86, rows: [866, 894, 923], swX: 2438, swW: 48, txtX: 2493 } },
  { top: 1054, bottom: 1462, yMax: 7, yTicks: levelTicks, yFmt: d3.format("d"),
    rainMax: 1.0, rTicks: rainTicks, yLabel: "Level (inches)", yLabelX: 66,
    title: "Level Calibration", titleX: 1426,
    series: [
      { name: "Measured Data", data: levelMeasured, color: "#003366" },
      { name: "Modeled Data", data: levelModeled, color: "#006600" }],
    legend: { x: 2411, y: 1363, w: 271, h: 85, rows: [1377, 1405, 1433], swX: 2436, swW: 48, txtX: 2490 } }
];

function drawPanel(p) {
  const g = svg.append("g");
  const y = d3.scaleLinear().domain([0, p.yMax]).range([p.bottom, p.top]);
  const yR = d3.scaleLinear().domain([0, p.rainMax]).range([p.top, p.bottom]);

  // grid
  g.append("g").selectAll("line").data(halfDays.filter(d => d > 0 && d < 57)).join("line")
    .attr("x1", d => x(d)).attr("x2", d => x(d)).attr("y1", p.top).attr("y2", p.bottom)
    .attr("stroke", gridGray).attr("stroke-width", 1.5);
  g.append("g").selectAll("line").data(p.yTicks.filter(v => v > 0 && v < p.yMax)).join("line")
    .attr("x1", x(0)).attr("x2", x(57)).attr("y1", d => y(d)).attr("y2", d => y(d))
    .attr("stroke", gridGray).attr("stroke-width", 2);

  // rain hanging from the top
  const bw = x(1 / 24) - x(0);
  g.append("g").selectAll("rect").data(rain).join("rect")
    .attr("x", d => x(d[0])).attr("y", p.top).attr("width", bw)
    .attr("height", d => yR(d[1]) - p.top).attr("fill", rainBlue);

  const line = d3.line().x(d => x(d[0])).y(d => y(d[1])).curve(d3.curveMonotoneX);
  p.series.forEach(s => {
    g.append("path").datum(s.data).attr("d", line).attr("fill", "none")
      .attr("stroke", s.color).attr("stroke-width", lineW)
      .attr("stroke-linejoin", "round").attr("stroke-linecap", "round")
      .attr("stroke-dasharray", s.dash || null);
  });

  // axes
  const ax = g.append("g").attr("transform", `translate(${x(0)},0)`)
    .call(d3.axisLeft(y).tickValues(p.yTicks).tickFormat(p.yFmt).tickSize(8).tickSizeOuter(0).tickPadding(12));
  const bx = g.append("g").attr("transform", `translate(0,${p.bottom})`)
    .call(d3.axisBottom(x).tickValues(halfDays).tickSize(7).tickSizeOuter(0)
      .tickFormat(d => d % 4 === 0 ? dateLabels[d / 4] : ""));
  const rx = g.append("g").attr("transform", `translate(${x(57)},0)`)
    .call(d3.axisRight(yR).tickValues(p.rTicks).tickFormat(d3.format(".2f")).tickSize(7).tickSizeOuter(0).tickPadding(13));

  [ax, bx, rx].forEach(a => a.attr("font-family", null).attr("font-size", 22));
  ax.select(".domain").attr("stroke", "#000").attr("stroke-width", 2.5);
  ax.selectAll(".tick line").attr("stroke", "#000").attr("stroke-width", 2);
  ax.selectAll("text").attr("fill", "#000").attr("transform", "scale(1.12,1)");
  bx.select(".domain").attr("stroke", "#000").attr("stroke-width", 2.5);
  bx.selectAll(".tick line").attr("stroke", "#000").attr("stroke-width", 2);
  bx.selectAll("text").attr("fill", "#000").attr("transform", "scale(1.12,1) rotate(-90)")
    .attr("text-anchor", "end").attr("x", -16).attr("y", 0).attr("dy", "0.35em");
  rx.select(".domain").attr("stroke", gridGray).attr("stroke-width", 2);
  rx.selectAll(".tick line").attr("stroke", gridGray).attr("stroke-width", 2);
  rx.selectAll("text").attr("fill", "#000").attr("transform", "scale(1.12,1)");

  g.append("line").attr("x1", x(0)).attr("x2", x(57)).attr("y1", p.top).attr("y2", p.top)
    .attr("stroke", "#000").attr("stroke-width", 2.5);

  const cy = (p.top + p.bottom) / 2;
  g.append("text").attr("transform", `translate(${p.yLabelX},${cy}) rotate(-90)`)
    .attr("text-anchor", "middle").attr("font-size", 24).attr("font-weight", "bold").text(p.yLabel);
  g.append("text").attr("transform", `translate(2794,${cy}) rotate(-90)`)
    .attr("text-anchor", "middle").attr("font-size", 24).attr("font-weight", "bold").text("Rain (inches/hour)");

  // title box
  const tg = g.append("g");
  const tt = tg.append("text").attr("transform", `translate(${p.titleX},${p.top + 31}) scale(1.1,1)`)
    .attr("text-anchor", "middle").attr("dy", "0.35em")
    .attr("font-size", 26).attr("font-weight", "bold").text(p.title);
  const tw = tt.node().getBBox().width * 1.1;
  tg.insert("rect", "text").attr("x", p.titleX - tw / 2 - 8).attr("y", p.top + 9)
    .attr("width", tw + 16).attr("height", 43).attr("fill", "#fff");

  // legend
  const L = p.legend;
  const lg = g.append("g");
  lg.append("rect").attr("x", L.x).attr("y", L.y).attr("width", L.w).attr("height", L.h)
    .attr("fill", "#fff").attr("stroke", "#000").attr("stroke-width", 1.5);
  const items = [{ name: "Rain", rain: true }].concat(p.series);
  items.forEach((it, i) => {
    const yy = L.rows[i];
    if (it.rain) {
      lg.append("rect").attr("x", L.swX).attr("y", yy - 6.5).attr("width", L.swW).attr("height", 13).attr("fill", rainBlue);
    } else {
      lg.append("line").attr("x1", L.swX + 3).attr("x2", L.swX + L.swW - 3).attr("y1", yy).attr("y2", yy)
        .attr("stroke", it.color).attr("stroke-width", lineW).attr("stroke-linecap", "round")
        .attr("stroke-dasharray", it.dash || null);
    }
    lg.append("text").attr("transform", `translate(${L.txtX},${yy}) scale(1.13,1)`)
      .attr("dy", "0.35em").attr("font-size", 22).text(it.name);
  });
}

panels.forEach(drawPanel);
</script>
</body>
</html>
